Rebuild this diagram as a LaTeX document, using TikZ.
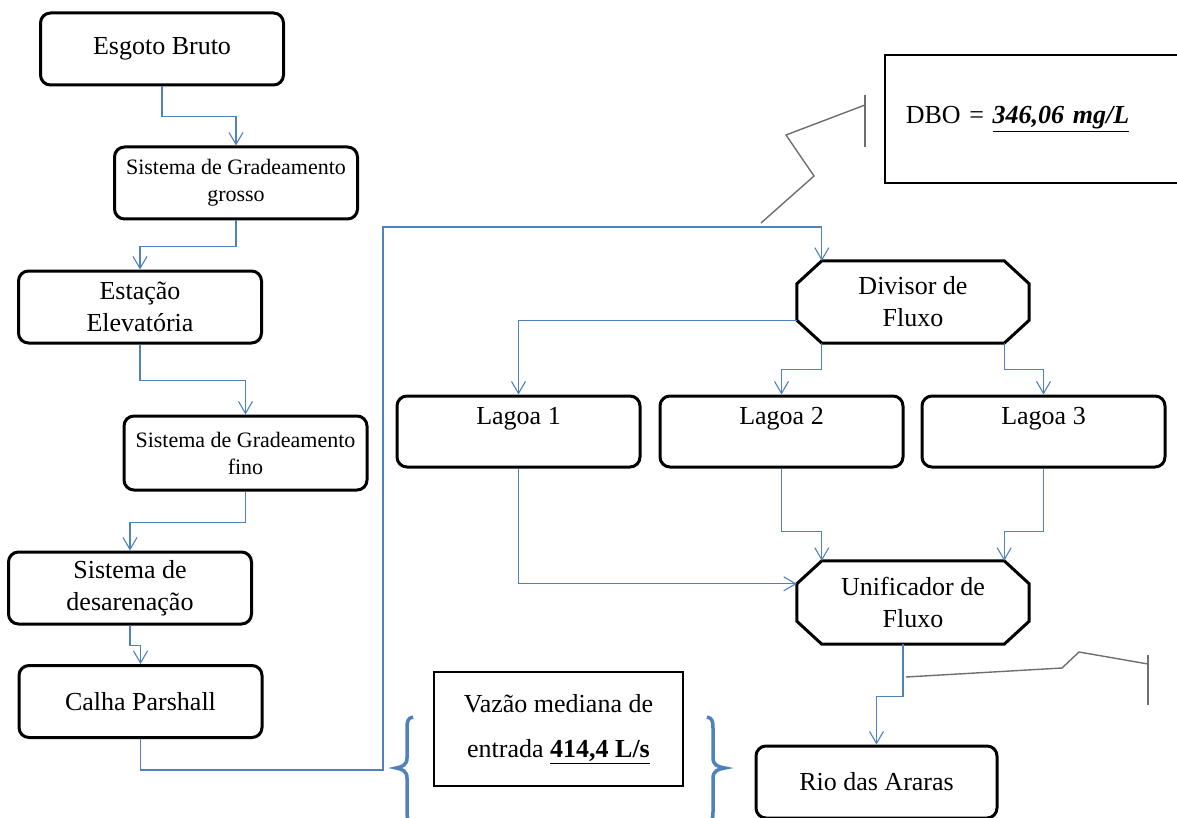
\documentclass[tikz,border=0pt]{standalone}
\usepackage{fontspec}
\setmainfont{Liberation Serif}
\usetikzlibrary{arrows.meta}

\definecolor{fluxo}{RGB}{79,129,189}
\definecolor{cinza}{RGB}{110,110,110}
\newcommand{\txtgr}{\fontsize{26}{32}\selectfont}
\newcommand{\txtpq}{\fontsize{22}{27}\selectfont}

\tikzset{
  etapa/.style={draw, line width=3pt, rounded corners=10pt, minimum width=243pt, minimum height=72pt, align=center, font=\txtgr},
  octo/.style={minimum width=232pt, minimum height=82pt, align=center, font=\txtgr},
  seta/.style={draw=fluxo, line width=1.1pt, -{Straight Barb[length=12pt,width=14pt]}},
  caixa/.style={draw, line width=1.5pt, align=center},
  chave/.style={draw=fluxo, line width=3.5pt},
  chamada/.style={draw=cinza, line width=1.4pt}
}

\begin{document}
\begin{tikzpicture}[x=1pt,y=-1pt]
  \useasboundingbox (0,0) rectangle (1177,818);

  \node[etapa] (bruto) at (162,49) {Esgoto Bruto};
  \node[etapa, font=\txtpq] (grosso) at (236,183) {Sistema de Gradeamento\\grosso};
  \node[etapa] (eleva) at (140,307) {Estação\\Elevatória};
  \node[etapa, font=\txtpq, minimum height=74pt] (fino) at (245.5,453) {Sistema de Gradeamento\\fino};
  \node[etapa] (desar) at (130,588) {Sistema de\\desarenação};
  \node[etapa] (calha) at (140.5,701.5) {Calha Parshall};

  \node[octo] (div) at (913,302) {Divisor de\\Fluxo};
  \node[etapa, minimum height=71pt] (lagoa1) at (518.5,431.5) {Lagoa 1\\~};
  \node[etapa, minimum height=71pt] (lagoa2) at (781.5,431.5) {Lagoa 2\\~};
  \node[etapa, minimum height=71pt] (lagoa3) at (1043.5,431.5) {Lagoa 3\\~};
  \node[octo, minimum height=83pt] (unif) at (913,602.5) {Unificador de\\Fluxo};
  \node[etapa, minimum width=241pt] (rio) at (876.5,782) {Rio das Araras};

  \node[caixa, anchor=west, text width=270pt, inner xsep=21pt, minimum height=128pt, align=left, font=\txtgr] (dbo) at (884,119) {DBO = \textbf{\textit{\underline{346,06 mg/L}}}};
  \node[caixa, minimum width=249pt, minimum height=114pt, font={\fontsize{26}{45}\selectfont}] (vazao) at (558.5,729) {Vazão mediana de\\entrada \textbf{\underline{414,4 L/s}}};

  \foreach \n in {div,unif}
    \draw[line width=3pt] ([xshift=25pt]\n.north west) -- ([xshift=-25pt]\n.north east) -- ([yshift=-23pt]\n.north east) -- ([yshift=23pt]\n.south east) -- ([xshift=-25pt]\n.south east) -- ([xshift=25pt]\n.south west) -- ([yshift=23pt]\n.south west) -- ([yshift=-23pt]\n.north west) -- cycle;

  \coordinate (dtl) at ([xshift=25pt]div.north west);
  \coordinate (dlb) at ([yshift=23pt]div.south west);
  \coordinate (dbl) at ([xshift=25pt]div.south west);
  \coordinate (dbr) at ([xshift=-25pt]div.south east);
  \coordinate (ult) at ([yshift=-23pt]unif.north west);
  \coordinate (utl) at ([xshift=25pt]unif.north west);
  \coordinate (utr) at ([xshift=-25pt]unif.north east);
  \coordinate (desvio) at (383,227);

  \draw[seta] (bruto.south) -- ++(0,30) -| (grosso.north);
  \draw[seta] (grosso.south) -- ++(0,26) -| (eleva.north);
  \draw[seta] (eleva.south) -- ++(0,36) -| (fino.north);
  \draw[seta] (fino.south) -- ++(0,31) -| (desar.north);
  \draw[seta] (desar.south) -- ++(0,20) -| (calha.north);
  \draw[seta] (calha.south) -- ++(0,31) -| (desvio) -| (dtl);
  \draw[seta] (dlb) -| (lagoa1.north);
  \draw[seta] (dbl) -- ++(0,26) -| (lagoa2.north);
  \draw[seta] (dbr) -- ++(0,26) -| (lagoa3.north);
  \draw[seta] (lagoa1.south) |- (ult);
  \draw[seta] (lagoa2.south) -- ++(0,63) -| (utl);
  \draw[seta] (lagoa3.south) -- ++(0,63) -| (utr);
  \draw[seta] ([xshift=-10pt]unif.south) -- ++(0,52) -| (rio.north);

  \draw[chamada] (865,95) -- (865,147);
  \draw[chamada] (865,105) -- (786,135) -- (814,176) -- (761,223);
  \draw[chamada] (1148,655) -- (1148,705);
  \draw[chamada] (1148,664) -- (1079,652) -- (1062,668) -- (906,677);

  \draw[chave] (413,717) .. controls (408,718) and (407,721) .. (407,728) -- (407,758) .. controls (407,765) and (402,767) .. (396,768) .. controls (402,769) and (407,771) .. (407,778) -- (407,812) .. controls (407,819) and (408,822) .. (413,823);
  \draw[chave] (707,717) .. controls (712,718) and (713,721) .. (713,728) -- (713,758) .. controls (713,765) and (718,767) .. (725,768) .. controls (718,769) and (713,771) .. (713,778) -- (713,812) .. controls (713,819) and (712,822) .. (707,823);
\end{tikzpicture}
\end{document}
